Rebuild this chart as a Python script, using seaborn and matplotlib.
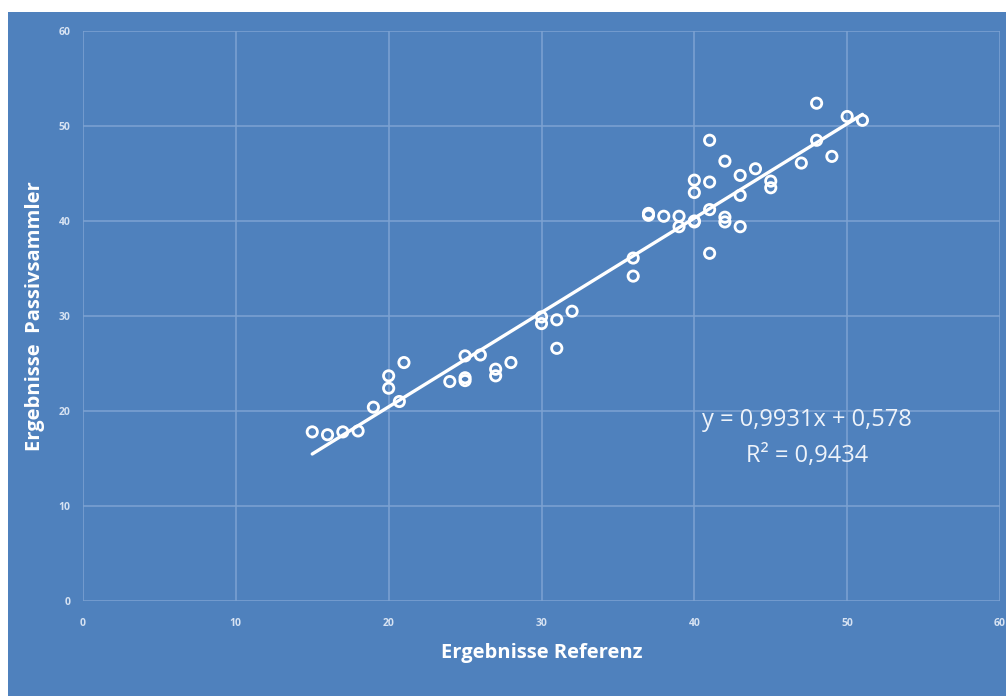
import matplotlib
matplotlib.use('Agg')
import matplotlib.pyplot as plt
import numpy as np
import pandas as pd
import seaborn as sns
from matplotlib.patches import Rectangle

referenz = [15, 16, 17, 18, 19, 20, 20, 21, 20.7, 24, 25, 25, 25, 26, 27, 27, 28,
            30, 30, 31, 31, 32, 36, 36, 37, 37, 38, 39, 39, 40, 40, 40, 40, 41, 41,
            41, 41, 42, 42, 42, 43, 43, 43, 44, 45, 45, 47, 48, 48, 49, 50, 51]
passiv = [17.8, 17.5, 17.8, 17.9, 20.4, 23.7, 22.4, 25.1, 21.0, 23.1, 23.2, 23.5, 25.8,
          25.9, 24.4, 23.7, 25.1, 29.9, 29.2, 29.6, 26.6, 30.5, 36.1, 34.2, 40.6, 40.8,
          40.5, 40.5, 39.4, 39.9, 44.3, 43.0, 40.0, 44.1, 41.2, 48.5, 36.6, 46.3, 40.4,
          39.9, 44.8, 42.7, 39.4, 45.5, 44.2, 43.5, 46.1, 52.4, 48.5, 46.8, 51.0, 50.6]
steigung = 0.9931
achsenabschnitt = 0.578
bestimmtheit = 0.9434

df = pd.DataFrame({'ref': referenz, 'pas': passiv})
trend = pd.DataFrame({'ref': [min(referenz), max(referenz)]})
trend['pas'] = steigung * trend['ref'] + achsenabschnitt

blau = '#4f81bd'
gitter = '#7da2d2'
hell = '#d6e2f2'

sns.set_style('white')
plt.rcParams['font.family'] = ['Open Sans', 'DejaVu Sans']

fig = plt.figure(figsize=(10.06, 6.96), dpi=100)
fig.patch.set_facecolor('white')
# blaue Diagrammflaeche mit weissem Rand oben/links
fig.patches.append(Rectangle((8 / 1006, 0), 998 / 1006, 684 / 696,
                             transform=fig.transFigure, facecolor=blau,
                             edgecolor='none', zorder=-10))
ax = fig.add_axes([83 / 1006, 95 / 696, 917 / 1006, 570 / 696])
ax.set_facecolor('none')

ax.set_xlim(0, 60)
ax.set_ylim(0, 60)
ax.set_xticks(range(0, 61, 10))
ax.set_yticks(range(0, 61, 10))
ax.grid(True, color=gitter, linewidth=1.1)
for s in ax.spines.values():
    s.set_visible(False)
ax.tick_params(length=0, labelsize=7.5, labelcolor=hell)
ax.tick_params(axis='x', pad=12)
ax.tick_params(axis='y', pad=9)
for lab in ax.get_xticklabels() + ax.get_yticklabels():
    lab.set_fontweight('bold')

sns.lineplot(data=trend, x='ref', y='pas', color='white', linewidth=2.4, ax=ax, zorder=3)
sns.scatterplot(data=df, x='ref', y='pas', s=55, facecolor='none', edgecolor='white',
                linewidth=2, ax=ax, zorder=4)

ax.set_xlabel('Ergebnisse Referenz', fontsize=14.5, fontweight='bold', color='white', labelpad=10)
ax.set_ylabel('Ergebnisse  Passivsammler', fontsize=14.5, fontweight='bold', color='white', labelpad=10)

gl = f'y = {steigung:.4f}x + {achsenabschnitt:.3f}'.replace('.', ',')
r2 = f'R² = {bestimmtheit:.4f}'.replace('.', ',')
ax.text(47.4, 19.1, gl, fontsize=17, color='#eef3fa', ha='center', va='center')
ax.text(47.4, 15.3, r2, fontsize=17, color='#eef3fa', ha='center', va='center')

fig.savefig('out.png', dpi=100)
